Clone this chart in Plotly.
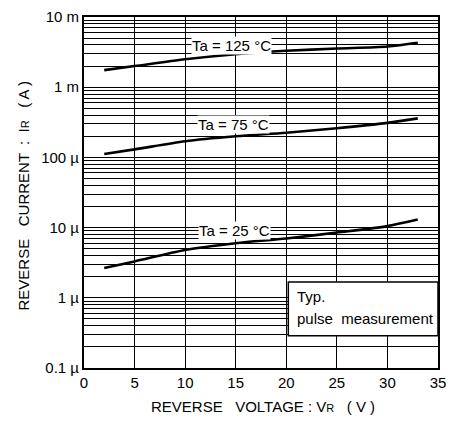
import plotly.graph_objects as go
import math

# Data
v_r = [2, 5, 10, 15, 20, 25, 30, 33]
ir_125 = [1.75e-3, 2.0e-3, 2.5e-3, 2.95e-3, 3.3e-3, 3.55e-3, 3.8e-3, 4.3e-3]
ir_75 = [1.12e-4, 1.3e-4, 1.7e-4, 2.0e-4, 2.25e-4, 2.6e-4, 3.1e-4, 3.6e-4]
ir_25 = [2.65e-6, 3.3e-6, 4.8e-6, 6.0e-6, 7.0e-6, 8.5e-6, 1.05e-5, 1.3e-5]

series_names = ["Ta = 125 °C", "Ta = 75 °C", "Ta = 25 °C"]
label_pos = [(14.6, 3.9e-3), (14.8, 2.9e-4), (14.9, 9.0e-6)]

x_ticks = [0, 5, 10, 15, 20, 25, 30, 35]
y_tickvals = [1e-7, 1e-6, 1e-5, 1e-4, 1e-3, 1e-2]
y_ticktext = ["0.1 µ", "1 µ", "10 µ", "100 µ", "1 m", "10 m"]

FONT = "Liberation Sans, Arial, sans-serif"

fig = go.Figure()
for ys in (ir_125, ir_75, ir_25):
    fig.add_trace(go.Scatter(x=v_r, y=ys, mode="lines",
                             line=dict(color="black", width=2.6, shape="spline",
                                       smoothing=0.8),
                             showlegend=False, hoverinfo="skip"))

for name, (lx, ly) in zip(series_names, label_pos):
    fig.add_annotation(x=lx, y=math.log10(ly), xref="x", yref="y", text=name,
                       showarrow=False, bgcolor="white", borderpad=0,
                       font=dict(family=FONT, size=15, color="black"))

# "Typ. pulse measurement" box
fig.add_shape(type="rect", xref="x", yref="paper", x0=20.2, x1=35,
              y0=0.092, y1=0.245, fillcolor="white",
              line=dict(color="black", width=1.5), layer="above")
fig.add_annotation(x=20.9, y=0.203, xref="x", yref="paper",
                   text="Typ.", showarrow=False,
                   xanchor="left", yanchor="middle", align="left",
                   font=dict(family=FONT, size=15, color="black"))
fig.add_annotation(x=20.9, y=0.14, xref="x", yref="paper",
                   text="pulse  measurement", showarrow=False,
                   xanchor="left", yanchor="middle", align="left",
                   font=dict(family=FONT, size=15, color="black"))

fig.add_annotation(x=-0.171, y=0.49, xref="paper", yref="paper",
                   xanchor="center", yanchor="middle",
                   text="REVERSE   CURRENT  :  I<span style='font-size:11px'>R</span>   ( A )",
                   textangle=-90, showarrow=False,
                   font=dict(family=FONT, size=15, color="black"))
fig.add_annotation(x=0.507, y=-0.111, xref="paper", yref="paper",
                   xanchor="center", yanchor="middle",
                   text="REVERSE   VOLTAGE : V<span style='font-size:11px'>R</span>   ( V )",
                   showarrow=False,
                   font=dict(family=FONT, size=15, color="black"))

fig.update_xaxes(range=[0, 35], tickvals=x_ticks, showgrid=True,
                 gridcolor="black", gridwidth=1.3, zeroline=False,
                 showline=True, linecolor="black", linewidth=2, mirror=True,
                 ticks="", tickfont=dict(family=FONT, size=15, color="black"))
fig.update_yaxes(type="log", range=[-7, -2], tickvals=y_tickvals,
                 ticktext=y_ticktext, showgrid=True, gridcolor="black",
                 gridwidth=1.3, zeroline=False,
                 showline=True, linecolor="black", linewidth=2, mirror=True,
                 ticks="", tickfont=dict(family=FONT, size=15, color="black"),
                 minor=dict(showgrid=True, gridcolor="black", gridwidth=1,
                            dtick="D1"))

fig.update_layout(width=453, height=421, autosize=False,
                  margin=dict(l=84, r=7, t=17, b=53),
                  plot_bgcolor="white", paper_bgcolor="white")

fig.write_html("out.html")
